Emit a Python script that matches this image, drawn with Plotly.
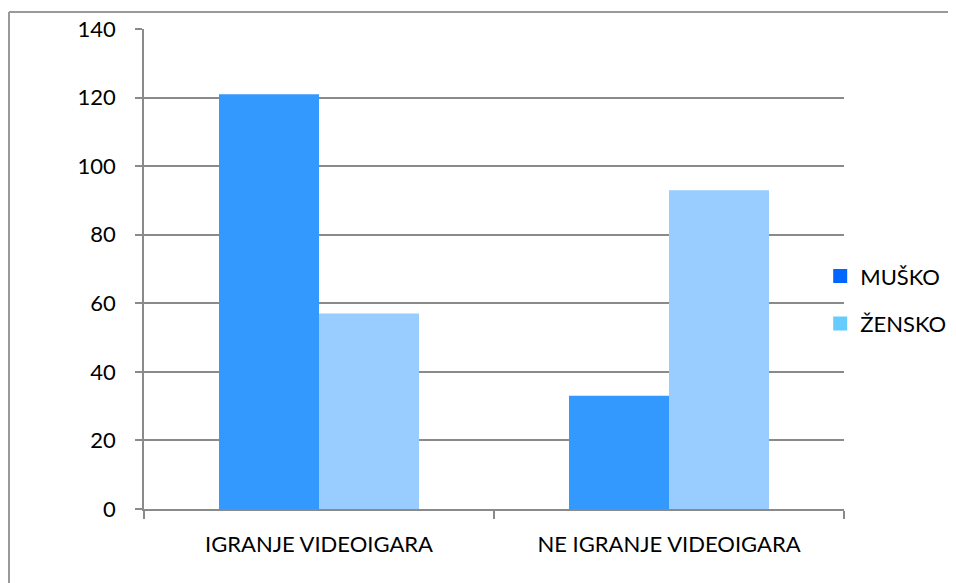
import plotly.graph_objects as go

categories = ["IGRANJE VIDEOIGARA", "NE IGRANJE VIDEOIGARA"]
musko = [121, 33]
zensko = [57, 93]
series_names = ["MUŠKO", "ŽENSKO"]
bar_colors = ["#3399FF", "#99CCFF"]
legend_colors = ["#0066FF", "#66CCFF"]
y_ticks = [0, 20, 40, 60, 80, 100, 120, 140]

FONT = "Lato"
fig = go.Figure()
for name, vals, col in zip(series_names, [musko, zensko], bar_colors):
    fig.add_trace(go.Bar(x=categories, y=vals, name=name, marker_color=col,
                         marker_line_width=0, showlegend=False))
for i, (name, col) in enumerate(zip(series_names, legend_colors)):
    fig.add_trace(go.Scatter(x=[None], y=[None], mode="markers", name=name,
                             legendgroup="g%d" % i,
                             marker=dict(symbol="square", size=14, color=col)))

grid = "#8A8A8A"
W, H = 948, 575
L, T = 136, 21
PW, PH = 700, 480
fig.update_layout(
    width=W, height=H,
    margin=dict(l=L, r=W - L - PW, t=T, b=H - T - PH, autoexpand=False),
    paper_bgcolor="white", plot_bgcolor="white",
    barmode="group", bargap=0.4286, bargroupgap=0,
    font=dict(family=FONT, size=22, color="black"),
    legend=dict(x=0.966, y=0.435, xanchor="left", yanchor="middle",
                tracegroupgap=16, font=dict(size=22),
                itemwidth=30, bgcolor="rgba(0,0,0,0)"),
    xaxis=dict(type="category", showline=True, linecolor=grid, linewidth=1.5,
               ticks="outside", tickson="boundaries", ticklen=8, tickcolor=grid,
               tickwidth=1.5, showgrid=False, ticklabelstandoff=15,
               mirror=False),
    yaxis=dict(range=[0, 140], tickvals=y_ticks, showline=True, linecolor=grid,
               linewidth=1.5, ticks="outside", ticklen=7, tickcolor=grid,
               tickwidth=1.5, showgrid=True, gridcolor=grid, gridwidth=1.5,
               zeroline=False, ticklabelstandoff=15),
    showlegend=True,
)
# outer chart-area frame (top and left edges visible)
top_y = 1 + (T - 4) / PH
left_x = (1 - L) / PW
fig.add_shape(type="line", xref="paper", yref="paper",
              x0=left_x, x1=(W + 5 - L) / PW, y0=top_y, y1=top_y,
              line=dict(color="#999999", width=2))
fig.add_shape(type="line", xref="paper", yref="paper",
              x0=left_x, x1=left_x, y0=top_y, y1=-(H + 5 - T - PH) / PH,
              line=dict(color="#999999", width=2))

fig.write_html("out.html")
